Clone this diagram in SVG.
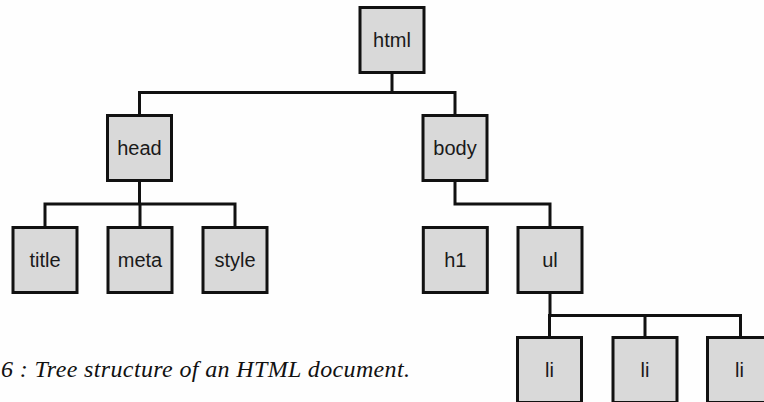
<svg xmlns="http://www.w3.org/2000/svg" width="764" height="402" viewBox="0 0 764 402">
<style>
.box{fill:#d9d9d9;stroke:#111;stroke-width:3}
.lbl{font-family:"Liberation Sans",Arial,sans-serif;font-size:20px;fill:#1a1a1a;text-anchor:middle}
.edge{fill:none;stroke:#111;stroke-width:3;stroke-linecap:square}
.cap{font-family:"Liberation Serif","Times New Roman",serif;font-style:italic;font-size:24px;fill:#111}
</style>
<rect width="764" height="402" fill="#fefefe"/>
<g id="connectors">
<path class="edge" d="M392 74V92.5M139.5 114V92.5H455V114"/>
<path class="edge" d="M139.5 182V204M45 226V204H235V226M140 204V226"/>
<path class="edge" d="M455 182V204H550V226"/>
<path class="edge" d="M550 294V315.5M549.5 336V315.5H740.5V336M645 315.5V336"/>
</g>
<g id="html"><rect class="box" x="360" y="7.5" width="64" height="65"/><text class="lbl" x="392" y="47">html</text></g>
<g id="head"><rect class="box" x="107.5" y="115.5" width="64" height="65"/><text class="lbl" x="139.5" y="155">head</text></g>
<g id="body"><rect class="box" x="423" y="115.5" width="64" height="65"/><text class="lbl" x="455" y="155">body</text></g>
<g id="title"><rect class="box" x="13" y="227.5" width="64" height="65"/><text class="lbl" x="45" y="267">title</text></g>
<g id="meta"><rect class="box" x="108" y="227.5" width="64" height="65"/><text class="lbl" x="140" y="267">meta</text></g>
<g id="style"><rect class="box" x="203" y="227.5" width="64" height="65"/><text class="lbl" x="235" y="267">style</text></g>
<g id="h1"><rect class="box" x="423.3" y="227.5" width="64" height="65"/><text class="lbl" x="455.3" y="267">h1</text></g>
<g id="ul"><rect class="box" x="518" y="227.5" width="64" height="65"/><text class="lbl" x="550" y="267">ul</text></g>
<g id="li1"><rect class="box" x="517.5" y="337.5" width="64" height="65"/><text class="lbl" x="549.5" y="377">li</text></g>
<g id="li2"><rect class="box" x="613" y="337.5" width="64" height="65"/><text class="lbl" x="645" y="377">li</text></g>
<g id="li3"><rect class="box" x="707.5" y="337.5" width="64" height="65"/><text class="lbl" x="739.5" y="377">li</text></g>
<text class="cap" x="1" y="377" textLength="409">6 : Tree structure of an HTML document.</text>
</svg>
